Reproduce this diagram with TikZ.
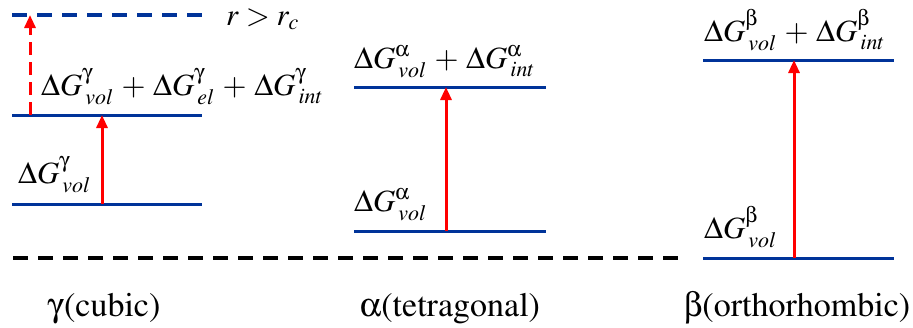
\documentclass[tikz,border=0pt]{standalone}
\usepackage[T1]{fontenc}
\usepackage{mathptmx}
\usepackage[Symbol]{upgreek}
\usepackage{amsmath}
\usetikzlibrary{positioning, arrows.meta}

\definecolor{lvlblue}{RGB}{0,51,153}
\DeclareMathSizes{31}{31}{22}{16}
\medmuskip=4.5mu plus 2mu minus 4mu
\newcommand{\dG}[2]{\Delta G^{#1}_{\kern3bp #2}}

\begin{document}
\begin{tikzpicture}[
    x=1bp, y=-1bp,
    >={Triangle[width=11bp,length=13bp]},
    level/.style={draw=lvlblue, line width=3bp},
    jump/.style={draw=red, line width=3bp, ->},
    lbl/.style={inner sep=0pt, anchor=base west, font=\fontsize{31}{35}\selectfont},
    phase/.style={inner sep=0pt, anchor=base, font=\fontsize{34bp}{38bp}\selectfont},
]
\useasboundingbox (0,0) rectangle (913,327);

% gamma (cubic)
\coordinate (g0) at (12,204);
\coordinate (g1) at (12,115);
\coordinate (g2) at (12,15);
\draw[level] (g0) -- ++(190,0);
\draw[level] (g1) -- ++(190,0);
\draw[level, line width=4bp, dash pattern=on 15bp off 10bp] (g2) -- ++(190,0);
\coordinate (g0a) at (102,204);
\coordinate (g1a) at (102,115);
\coordinate (g1b) at (30,115);
\coordinate (g2b) at (30,15);
\draw[jump] (g0a) -- (g1a);
\draw[jump, dash pattern=on 13bp off 7bp] (g1b) -- (g2b);
\node[lbl] (lg0) at (18,183) {$\dG{\upgamma}{vol}$};
\node[lbl] (lg1) at (41,95) {$\dG{\upgamma}{vol}+\dG{\upgamma}{el}+\dG{\upgamma}{int}$};
\node[lbl] (rc) at (226,25) {$r > r_c$};

% alpha (tetragonal)
\coordinate (a0) at (354,231);
\coordinate (a1) at (354,87);
\draw[level] (a0) -- ++(192,0);
\draw[level] (a1) -- ++(192,0);
\coordinate (a0a) at (446,231);
\coordinate (a1a) at (446,87);
\draw[jump] (a0a) -- (a1a);
\node[lbl] (la0) at (354,211) {$\dG{\upalpha}{vol}$};
\node[lbl] (la1) at (354,68) {$\dG{\upalpha}{vol}+\dG{\upalpha}{int}$};

% beta (orthorhombic)
\coordinate (b0) at (703,258);
\coordinate (b1) at (703,60);
\draw[level] (b0) -- ++(191,0);
\draw[level] (b1) -- ++(191,0);
\coordinate (b0a) at (794,258);
\coordinate (b1a) at (794,60);
\draw[jump] (b0a) -- (b1a);
\node[lbl] (lb0) at (704,238) {$\dG{\upbeta}{vol}$};
\node[lbl] (lb1) at (704,41) {$\dG{\upbeta}{vol}+\dG{\upbeta}{int}$};

% reference energy
\coordinate (ref0) at (13,258);
\coordinate (ref1) at (681,258);
\draw[line width=4bp, dash pattern=on 15bp off 10bp] (ref0) -- (ref1);

% phase names
\node[phase] (pg) at (104,316) {$\upgamma$(cubic)};
\node[phase] (pa) at (450,316) {$\upalpha$(tetragonal)};
\node[phase] (pb) at (797,316) {$\upbeta$(orthorhombic)};

\end{tikzpicture}
\end{document}
